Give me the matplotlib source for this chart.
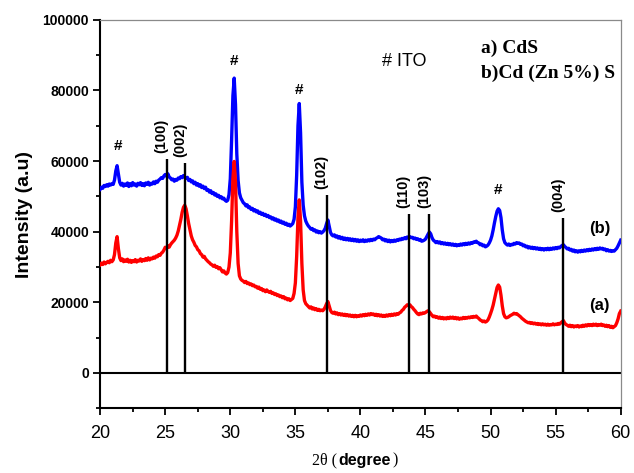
import matplotlib
matplotlib.use('Agg')
import matplotlib.pyplot as plt
import numpy as np
from matplotlib.ticker import MultipleLocator
from matplotlib.offsetbox import TextArea, HPacker, AnchoredOffsetbox

# XRD patterns, 0.1 degree steps from 20 to 60 (one row per degree)
cds_zn_rows = [
    [52000, 52600, 52300, 53100, 52800, 53300, 52900, 53500, 53200, 53600],
    [53400, 54600, 57200, 58700, 56300, 54000, 53200, 53700, 52900, 53500],
    [53100, 53800, 52800, 53600, 53000, 53900, 53200, 53500, 52900, 53700],
    [53300, 53900, 53100, 53600, 53000, 53800, 53400, 54000, 53200, 53700],
    [53500, 54100, 53600, 54300, 54000, 54600, 54900, 55300, 55100, 55800],
    [56200, 55700, 56400, 55500, 55200, 54700, 54900, 54300, 54800, 54600],
    [55200, 55000, 55600, 55300, 55900, 55500, 55100, 55400, 54500, 54800],
    [54100, 54400, 53600, 54000, 53200, 53600, 52900, 53300, 52500, 52900],
    [52200, 52600, 51700, 51900, 51200, 51600, 50800, 51100, 50400, 50700],
    [50000, 50300, 49600, 49900, 49300, 49500, 48900, 48600, 48900, 50500],
    [55000, 66000, 78500, 83500, 76000, 62000, 54500, 51000, 49600, 48900],
    [48200, 47900, 47300, 47600, 46800, 47000, 46300, 46600, 45900, 46200],
    [45600, 45900, 45200, 45500, 44900, 45200, 44600, 44900, 44300, 44600],
    [44000, 44200, 43600, 43900, 43300, 43600, 43000, 43300, 42700, 43000],
    [42400, 42700, 42100, 42400, 41800, 42100, 41600, 41900, 42300, 43500],
    [47000, 56000, 70000, 76300, 68000, 54000, 47500, 44500, 43000, 42200],
    [41600, 41200, 40700, 40900, 40300, 40500, 39900, 40200, 39700, 40000],
    [39600, 39900, 40300, 41000, 42300, 43300, 41500, 39800, 39100, 38800],
    [39100, 38500, 38800, 38200, 38600, 38000, 38400, 37800, 38200, 37700],
    [38100, 37600, 38000, 37500, 37900, 37400, 37800, 37300, 37700, 37200],
    [37600, 37300, 37700, 37200, 37600, 37300, 37700, 37400, 37800, 37500],
    [37900, 37700, 38100, 38300, 38600, 38400, 38200, 37700, 37900, 37400],
    [37700, 37200, 37600, 37100, 37500, 37200, 37600, 37300, 37700, 37500],
    [37900, 37700, 38100, 37900, 38300, 38000, 38500, 38200, 38600, 38300],
    [38400, 38000, 38200, 37800, 38000, 37600, 37800, 37300, 37400, 37600],
    [37900, 38600, 39300, 39900, 39400, 38300, 37600, 37300, 36900, 37200],
    [36800, 37100, 36600, 36900, 36500, 36800, 36400, 36700, 36300, 36600],
    [36200, 36500, 36100, 36400, 36000, 36300, 36100, 36500, 36200, 36600],
    [36300, 36700, 36400, 36800, 36500, 36900, 36700, 37100, 37000, 37300],
    [36900, 36800, 36300, 36500, 36000, 36200, 35700, 35900, 36200, 36800],
    [37600, 38800, 40500, 42500, 44300, 45800, 46500, 46000, 44000, 40500],
    [38000, 36900, 36500, 36200, 36500, 36100, 36400, 36300, 36700, 36500],
    [36900, 36700, 36800, 36400, 36500, 36000, 36200, 35700, 35900, 35400],
    [35700, 35300, 35600, 35200, 35500, 35100, 35400, 35000, 35300, 34900],
    [35200, 34800, 35200, 34900, 35300, 34900, 35300, 35000, 35400, 35100],
    [35500, 35200, 35600, 35400, 35800, 36100, 36300, 35800, 35500, 35100],
    [35300, 34800, 35000, 34500, 34800, 34300, 34600, 34200, 34600, 34300],
    [34700, 34400, 34800, 34500, 34900, 34600, 35000, 34700, 35100, 34800],
    [35200, 34900, 35300, 35000, 35400, 35100, 35300, 34900, 35100, 34600],
    [34900, 34500, 34700, 34400, 34600, 34500, 34900, 35300, 36000, 36800],
    [37600],
]

cds_rows = [
    [30600, 31100, 30700, 31400, 30900, 31300, 31600, 31200, 31900, 31500],
    [32000, 33500, 36800, 38600, 35200, 32600, 31800, 32300, 31500, 32000],
    [31600, 32200, 31400, 31900, 31300, 31800, 31500, 32100, 31400, 31900],
    [31700, 32300, 31600, 32100, 31800, 32400, 31900, 32600, 32000, 32500],
    [32300, 32800, 32500, 33100, 32900, 33500, 33300, 33900, 34200, 34800],
    [35600, 35200, 36000, 35600, 36300, 36800, 37200, 37600, 38200, 39000],
    [40200, 41800, 43500, 45500, 46900, 47500, 46500, 44500, 42300, 40500],
    [38800, 37700, 37000, 36100, 35700, 34900, 34600, 33800, 33500, 32800],
    [33000, 32300, 31900, 31500, 31200, 30800, 30600, 30200, 30500, 29900],
    [30100, 29500, 29800, 29200, 28600, 28900, 28300, 28000, 28400, 30000],
    [34000, 43000, 55000, 59900, 54000, 40000, 31000, 27500, 26600, 26200],
    [26000, 25600, 25900, 25300, 25500, 25000, 25200, 24700, 24900, 24400],
    [24500, 24000, 24300, 23700, 23900, 23300, 23500, 23000, 23500, 23100],
    [22800, 23100, 22500, 22700, 22200, 22400, 21900, 22100, 21600, 21800],
    [21300, 21600, 21000, 21200, 20700, 21000, 20500, 20800, 21100, 22500],
    [25500, 33000, 44000, 49000, 43000, 31000, 23500, 20500, 19600, 19200],
    [18800, 18400, 18700, 18100, 18400, 17900, 18200, 17700, 18000, 17600],
    [17800, 17600, 18000, 18700, 19600, 20200, 19000, 17700, 17100, 16900],
    [17200, 16700, 17000, 16500, 16800, 16400, 16700, 16300, 16600, 16200],
    [16500, 16100, 16400, 16000, 16300, 15900, 16300, 15900, 16200, 16000],
    [16400, 16100, 16500, 16200, 16600, 16300, 16700, 16400, 16800, 16500],
    [16700, 16300, 16600, 16200, 16500, 16100, 16400, 16000, 16300, 16000],
    [16400, 16100, 16500, 16200, 16600, 16300, 16700, 16400, 16800, 16600],
    [17000, 17200, 17700, 18000, 18600, 18900, 19300, 19100, 19300, 18800],
    [18500, 18000, 17600, 17100, 16700, 16500, 16900, 16700, 17000, 16900],
    [17100, 17400, 17600, 17300, 16800, 16300, 15900, 16100, 15700, 15900],
    [15500, 15800, 15400, 15700, 15300, 15600, 15300, 15700, 15400, 15800],
    [15500, 15800, 15400, 15700, 15300, 15600, 15200, 15500, 15300, 15700],
    [15400, 15700, 15500, 15800, 15600, 15900, 15700, 16000, 15800, 16100],
    [15700, 15400, 15000, 14800, 14500, 14700, 14400, 14600, 15000, 15800],
    [16800, 17900, 19200, 20900, 22700, 24200, 24900, 24300, 22000, 19000],
    [16800, 15900, 15600, 15700, 15900, 16200, 16400, 16600, 16900, 16700],
    [16800, 16500, 16200, 15900, 15500, 15200, 14900, 14600, 14400, 14200],
    [14300, 14000, 14200, 13900, 14100, 13800, 14000, 13700, 13900, 13600],
    [13900, 13600, 13800, 13500, 13800, 13500, 13700, 13600, 13900, 13600],
    [13800, 13700, 14000, 13800, 14200, 14500, 14800, 14100, 13700, 13500],
    [13200, 13500, 13100, 13400, 13000, 13300, 13100, 13400, 13000, 13300],
    [13100, 13500, 13200, 13600, 13300, 13700, 13400, 13700, 13400, 13800],
    [13500, 13800, 13400, 13700, 13500, 13800, 13400, 13600, 13200, 13500],
    [13100, 13400, 12900, 13200, 12800, 13100, 13400, 14200, 15300, 16800],
    [17500],
]

# reference stick lines
stick_pos = [25.1, 26.5, 37.4, 43.7, 45.3, 55.6]
stick_height = [60500, 59500, 50500, 45000, 45000, 44000]
stick_labels = ['(100)', '(002)', '(102)', '(110)', '(103)', '(004)']

# ITO peaks marked with '#'
ito_pos = [21.35, 30.3, 35.3, 50.6]
ito_label_y = [64400, 88400, 80000, 51800]

cds_zn = np.concatenate([np.array(r, dtype=float) for r in cds_zn_rows])
cds = np.concatenate([np.array(r, dtype=float) for r in cds_rows])
two_theta_b = np.linspace(20, 60, len(cds_zn))
two_theta_a = np.linspace(20, 60, len(cds))

fig = plt.figure(figsize=(6.34, 4.73), dpi=100)
ax = fig.add_axes([0.158, 0.137, 0.821, 0.821])

ax.plot(two_theta_b, cds_zn, color='#0000ff', lw=2.4, zorder=3)
ax.plot(two_theta_a, cds, color='#ff0000', lw=2.4, zorder=3)

ax.axhline(0, color='black', lw=1.5, zorder=2)
ax.vlines(stick_pos, 0, stick_height, color='black', lw=1.7, zorder=4)
for x, h, lab in zip(stick_pos, stick_height, stick_labels):
    ax.text(x - 0.38, h + 1700, lab, rotation=90, ha='center', va='bottom',
            fontsize=10.5, fontweight='bold', family='Liberation Sans')

for x, y in zip(ito_pos, ito_label_y):
    ax.text(x, y, '#', ha='center', va='center', fontsize=11, fontweight='bold',
            family='Liberation Sans')

ax.text(43.35, 88100, '# ITO', ha='center', va='center', fontsize=13, family='Liberation Sans')
ax.text(49.25, 92000, 'a) CdS', ha='left', va='center', fontsize=14, fontweight='bold',
        family='Liberation Serif')
ax.text(49.25, 84900, 'b)Cd (Zn 5%) S', ha='left', va='center', fontsize=14, fontweight='bold',
        family='Liberation Serif')
ax.text(58.4, 41000, '(b)', ha='center', va='center', fontsize=12, fontweight='bold',
        family='Liberation Sans')
ax.text(58.4, 19100, '(a)', ha='center', va='center', fontsize=12, fontweight='bold',
        family='Liberation Sans')

ax.set_xlim(20, 60)
ax.set_ylim(-10000, 100000)
ax.xaxis.set_major_locator(MultipleLocator(5))
ax.xaxis.set_minor_locator(MultipleLocator(2.5))
ax.yaxis.set_minor_locator(MultipleLocator(10000))
ax.set_yticks([0, 20000, 40000, 60000, 80000, 100000])

ax.tick_params(which='both', direction='out', width=1.3, top=False, right=False)
ax.tick_params(which='major', length=5)
ax.tick_params(which='minor', length=3)
ax.tick_params(axis='x', labelsize=13, pad=7)
ax.tick_params(axis='y', labelsize=10, pad=3)
for t in ax.get_xticklabels():
    t.set_family('Liberation Sans')
for t in ax.get_yticklabels():
    t.set_family('Liberation Sans')
    t.set_fontweight('bold')

for s in ['left', 'bottom']:
    ax.spines[s].set_linewidth(1.5)
    ax.spines[s].set_color('black')
for s in ['top', 'right']:
    ax.spines[s].set_linewidth(0.9)
    ax.spines[s].set_color('#8a8a8a')

ax.set_ylabel('Intensity (a.u)', fontsize=14, fontweight='bold', family='Liberation Sans')
ax.yaxis.set_label_coords(-0.13, 0.5)

parts = [
    TextArea('2θ (', textprops=dict(family='Liberation Serif', size=11.5)),
    TextArea('degree', textprops=dict(family='Liberation Sans', weight='bold', size=11.5)),
    TextArea(')', textprops=dict(family='Liberation Serif', size=11.5)),
]
xlab = HPacker(children=parts, align='baseline', pad=0, sep=1)
anchored = AnchoredOffsetbox(loc='upper center', child=xlab, pad=0, borderpad=0, frameon=False,
                             bbox_to_anchor=(0.49, -0.115), bbox_transform=ax.transAxes)
ax.add_artist(anchored)

fig.patch.set_facecolor('white')
plt.savefig('out.png', dpi=100)
plt.close()
